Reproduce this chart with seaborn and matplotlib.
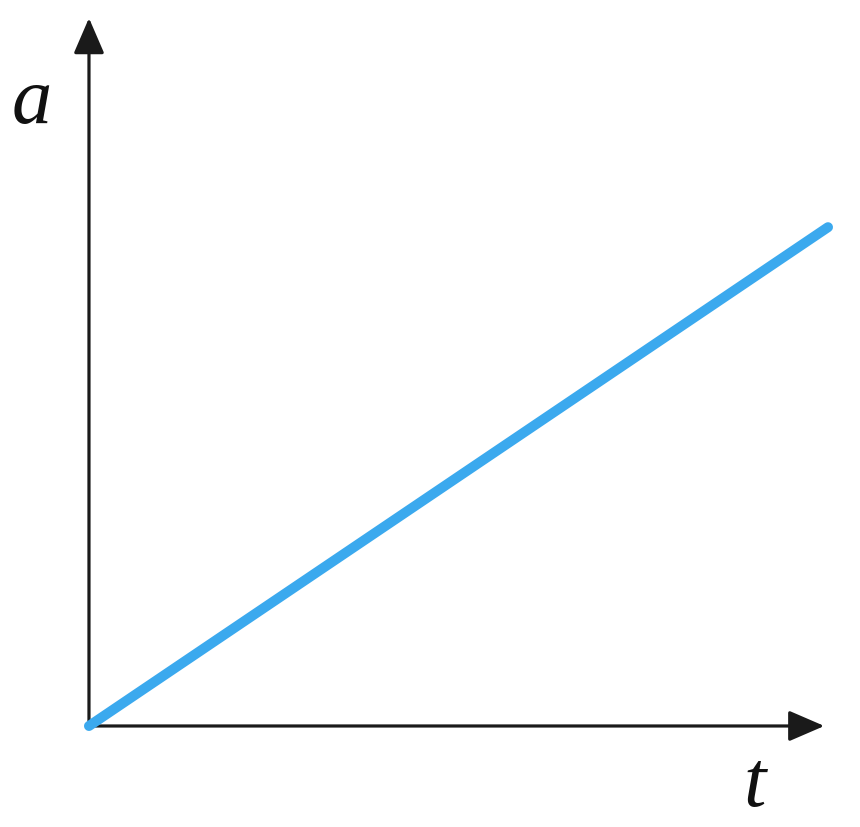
import matplotlib
matplotlib.use("Agg")
import matplotlib.pyplot as plt
import seaborn as sns
import pandas as pd

# data
t_values = [0.0, 10.0]
a_values = [0.0, 6.75]
x_label = "t"
y_label = "a"

sns.set_theme(style="white")
plt.rcParams['font.family'] = ['Liberation Serif', 'DejaVu Serif']

fig = plt.figure(figsize=(8.6, 8.28), dpi=100)
ax = fig.add_axes([0, 0, 1, 1])

df = pd.DataFrame({"t": t_values, "a": a_values})
sns.lineplot(data=df, x="t", y="a", ax=ax, color="#3BA9EE", linewidth=7.2,
             solid_capstyle="round", zorder=3)

# pixel-consistent scale: 73.9 px per unit
ax.set_xlim(-1.204, 10.433)
ax.set_ylim(-1.367, 9.838)
for s in ax.spines.values():
    s.set_visible(False)
ax.set_xticks([])
ax.set_yticks([])
ax.set_xlabel("")
ax.set_ylabel("")

arrow_kw = dict(arrowstyle="-|>,head_length=22,head_width=9.5", mutation_scale=1,
                color="#1a1a1a", lw=2.3, shrinkA=0, shrinkB=0)
ax.annotate("", xy=(9.95, 0), xytext=(0, 0), arrowprops=arrow_kw, zorder=2)
ax.annotate("", xy=(0, 9.58), xytext=(0, 0), arrowprops=arrow_kw, zorder=2)

ax.text(-0.77, 8.17, y_label, fontsize=58, style="italic", ha="center",
        va="baseline", color="#111111")
ax.text(9.01, -1.07, x_label, fontsize=58, style="italic", ha="center",
        va="baseline", color="#111111")

fig.savefig("out.png", dpi=100)
